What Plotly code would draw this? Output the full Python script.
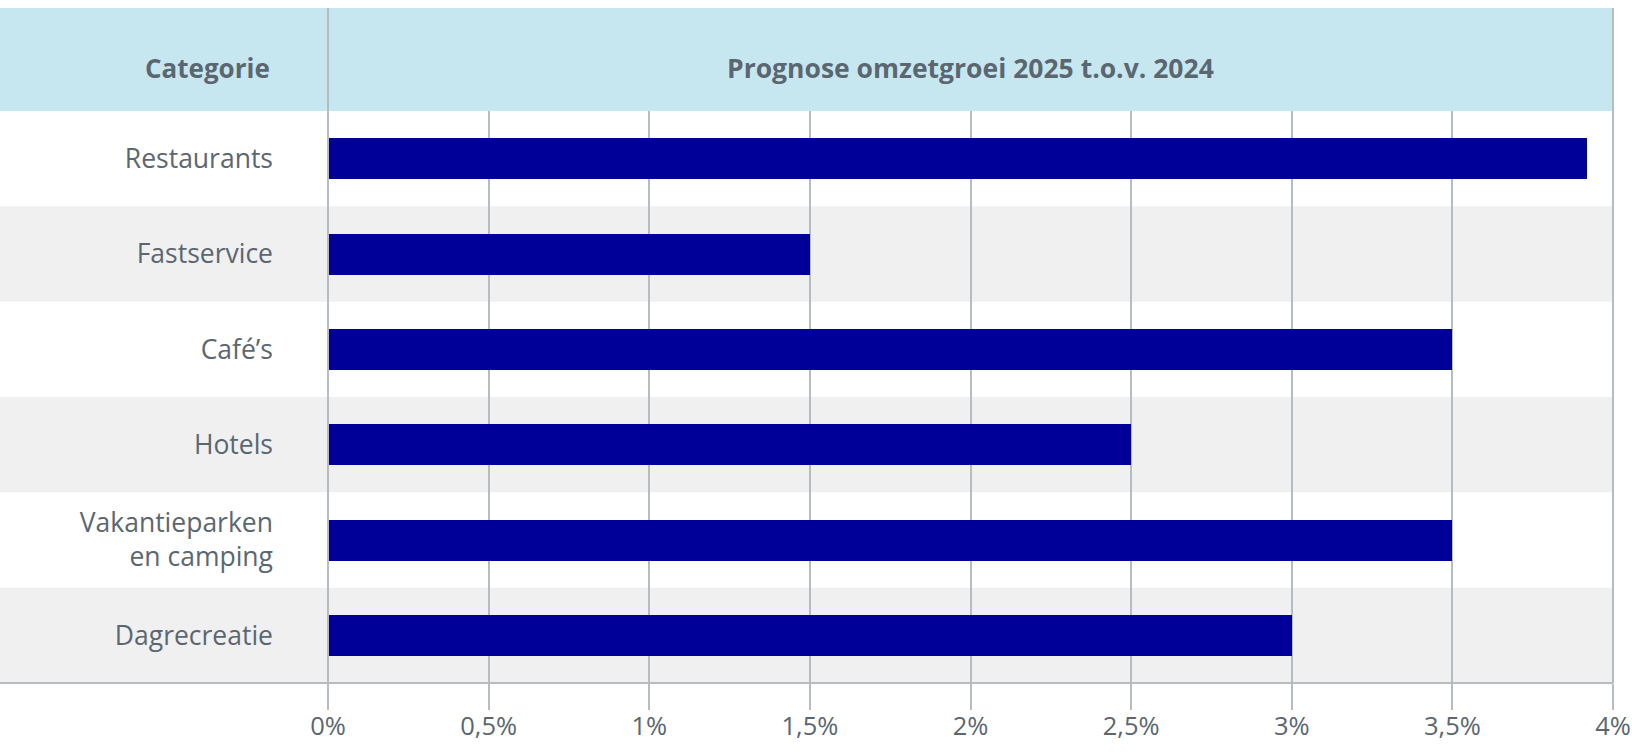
import plotly.graph_objects as go

categories = ["Restaurants", "Fastservice", "Café’s", "Hotels", "Vakantieparken<br>en camping", "Dagrecreatie"]
values = [3.92, 1.5, 3.5, 2.5, 3.5, 3.0]
tick_vals = [0, 0.5, 1, 1.5, 2, 2.5, 3, 3.5, 4]
tick_text = ["0%", "0,5%", "1%", "1,5%", "2%", "2,5%", "3%", "3,5%", "4%"]
header_left = "Categorie"
header_right = "Prognose omzetgroei 2025 t.o.v. 2024"

W, H = 1632, 755
L, R, T, B = 328, 19, 111, 72
pw, ph = W - L - R, H - T - B
HEAD = 103
FONT = "Open Sans"
TXT = "#5b6770"
GRID = "#b6bdc2"

fig = go.Figure(go.Bar(
    x=values, y=categories, orientation="h",
    marker=dict(color="#000099", line=dict(width=0)),
    width=0.43, hoverinfo="skip",
))

shapes = []
xl = -L / pw
# header band
shapes.append(dict(type="rect", xref="paper", yref="paper", x0=xl, x1=1, y0=1, y1=1 + HEAD / ph,
                   fillcolor="#c7e7f0", line=dict(width=0), layer="below"))
# alternating row shading
for i in range(len(categories)):
    if i % 2 == 1:
        shapes.append(dict(type="rect", xref="paper", yref="y", x0=xl, x1=1, y0=i - 0.5, y1=i + 0.5,
                           fillcolor="#f0f0f0", line=dict(width=0), layer="below"))
# bottom axis line
shapes.append(dict(type="line", xref="paper", yref="paper", x0=xl, x1=1, y0=0, y1=0,
                   line=dict(color=GRID, width=2)))
# left/right frame lines through header
for xv in (0, 1):
    shapes.append(dict(type="line", xref="paper", yref="paper", x0=xv, x1=xv, y0=0, y1=1 + HEAD / ph,
                       line=dict(color=GRID, width=2)))

annotations = [
    dict(text=f"<b>{header_left}</b>", xref="paper", yref="paper", x=(272 - L) / pw, y=1 + 43 / ph,
         xanchor="right", yanchor="middle", showarrow=False, font=dict(family=FONT, size=26, color=TXT)),
    dict(text=f"<b>{header_right}</b>", xref="paper", yref="paper", x=0.5, y=1 + 43 / ph,
         xanchor="center", yanchor="middle", showarrow=False, font=dict(family=FONT, size=26.5, color=TXT)),
]

fig.update_layout(
    width=W, height=H,
    margin=dict(l=L, r=R, t=T, b=B, autoexpand=False),
    paper_bgcolor="white", plot_bgcolor="rgba(0,0,0,0)",
    showlegend=False, bargap=0,
    shapes=shapes, annotations=annotations,
    xaxis=dict(range=[0, 4], tickvals=tick_vals, ticktext=tick_text, showgrid=True,
               gridcolor=GRID, gridwidth=2, zeroline=False, showline=False,
               ticks="outside", ticklen=26, tickwidth=2, tickcolor=GRID, ticklabelstandoff=-6,
               tickfont=dict(family=FONT, size=25.5, color=TXT), fixedrange=True),
    yaxis=dict(range=[5.5, -0.5], autorange=False, showgrid=False, zeroline=False, showline=False,
               ticks="", ticklabelstandoff=54, tickfont=dict(family=FONT, size=26.5, color=TXT),
               fixedrange=True),
)

fig.write_html("out.html", config=dict(displayModeBar=False),
               post_script="document.body.style.margin='0';document.body.style.overflow='hidden';")
